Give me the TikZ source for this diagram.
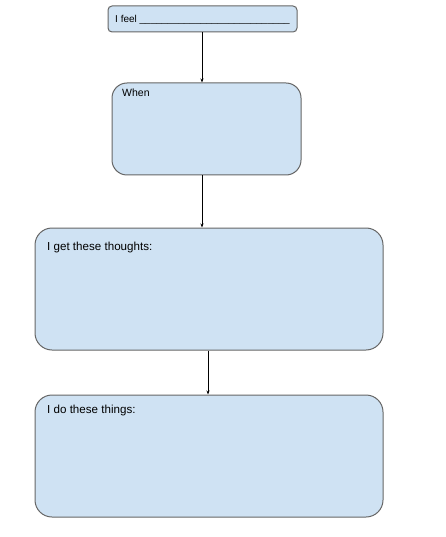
\documentclass[tikz,border=0pt]{standalone}
\usepackage{fontspec}
\setmainfont{Liberation Sans}
\usetikzlibrary{arrows.meta}
\definecolor{boxfill}{HTML}{CFE2F3}
\definecolor{boxline}{HTML}{666666}
\tikzset{
  box/.style={draw=boxline, fill=boxfill, line width=1pt, inner sep=0pt},
  lbl/.style={anchor=base west, inner sep=0pt, font=\fontsize{11.6}{14}\selectfont},
  conn/.style={draw=black, line width=0.6pt, -{Stealth[length=4pt,width=3pt]}}
}
\begin{document}
\begin{tikzpicture}[x=1pt,y=-1pt]
\useasboundingbox (0,0) rectangle (446,537);
\node[box, rounded corners=4pt, minimum width=189pt, minimum height=26pt] (b1) at (202.5,19) {};
\node[box, rounded corners=15pt, minimum width=189pt, minimum height=92pt] (b2) at (206.5,129) {};
\node[box, rounded corners=17pt, minimum width=348pt, minimum height=122pt] (b3) at (209,289) {};
\node[box, rounded corners=17pt, minimum width=348pt, minimum height=122pt] (b4) at (209,456) {};
\node[lbl, font=\fontsize{10}{12}\selectfont] (t1) at (115,23) {I feel \_\_\_\_\_\_\_\_\_\_\_\_\_\_\_\_\_\_\_\_\_\_\_\_\_\_\_};
\node[lbl, font=\fontsize{10.5}{12}\selectfont] (t2) at (122,97) {When};
\node[lbl] (t3) at (47,250) {I get these thoughts:};
\node[lbl] (t4) at (47,413) {I do these things:};
\draw[conn] (b1.south -| 202,0) -- (b2.north -| 202,0);
\draw[conn] (b2.south -| 202,0) -- (b3.north -| 202,0);
\draw[conn] (b3.south -| 208,0) -- (b4.north -| 208,0);
\end{tikzpicture}
\end{document}
